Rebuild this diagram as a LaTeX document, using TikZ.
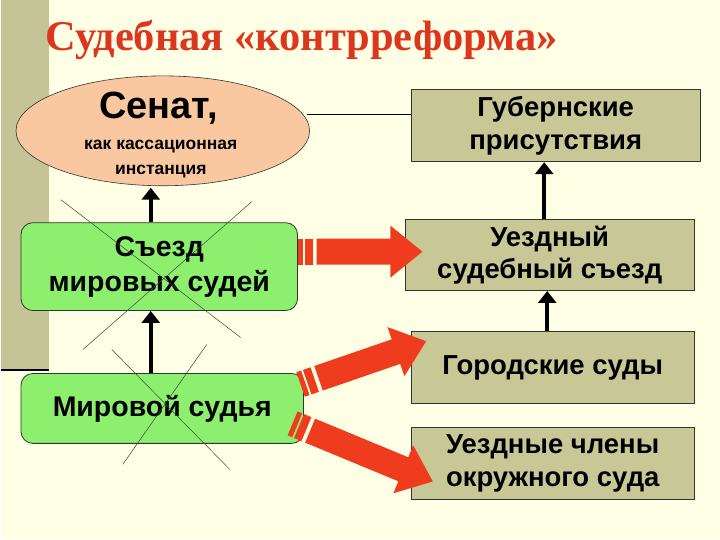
\documentclass[tikz,border=0pt]{standalone}
\usepackage{fontspec}
\setmainfont{Liberation Sans}
\newfontfamily\titlefont{Liberation Serif}
\usetikzlibrary{shapes.geometric,arrows.meta}
\definecolor{bg}{RGB}{255,255,230}
\definecolor{stripe}{RGB}{196,196,150}
\definecolor{olivebox}{RGB}{200,200,150}
\definecolor{greenbox}{RGB}{140,240,110}
\definecolor{peach}{RGB}{250,200,160}
\definecolor{titlered}{RGB}{220,55,30}
\definecolor{arrred}{RGB}{240,60,30}
\definecolor{crossc}{RGB}{60,70,60}
\newcommand\blockarrow[3]{%
\begin{scope}[shift={#1},rotate=#2]
\fill[arrred] (0,-13) rectangle (5,13);
\fill[arrred] (7,-13) rectangle (15,13);
\fill[arrred] (19,-13) -- (#3-32,-13) -- (#3-32,-26) -- (#3,0) -- (#3-32,26) -- (#3-32,13) -- (19,13) -- cycle;
\end{scope}}
\begin{document}
\begin{tikzpicture}[x=1pt,y=-1pt,
  obox/.style={draw=black!80,fill=olivebox,line width=0.8pt,inner sep=0pt,font=\bfseries\fontsize{27.5}{33}\selectfont,align=center},
  gbox/.style={draw=black!80,fill=greenbox,rounded corners=12pt,line width=0.8pt,inner sep=0pt,align=center,font=\bfseries\fontsize{28.5}{35}\selectfont},
  uparr/.style={line width=4pt,-{Triangle[length=12pt,width=18pt]}},
  cross/.style={crossc,line width=0.5pt}]
\fill[bg] (0,0) rectangle (720,540);
\fill[stripe] (0,0) rectangle (48,370);
\draw[black!70!blue!40!black,line width=2pt] (0,371) -- (48,371);
\node[anchor=west,font=\titlefont\bfseries\fontsize{42.5}{46}\selectfont,text=titlered] (title) at (41,40) {Судебная «контрреформа»};
\node[ellipse,draw=black!80,fill=peach,minimum width=294pt,minimum height=110pt,line width=0.6pt] (senat) at (162,131) {};
\node (senat1) at (158,108) {\bfseries\fontsize{38}{42}\selectfont Сенат,};
\node[align=center,font=\bfseries\fontsize{17.5}{25}\selectfont] (senat2) at (160,159) {как кассационная\\инстанция};
\node[gbox,minimum width=277pt,minimum height=88pt] (s) at (158.5,267) {Съезд\\мировых судей};
\node[gbox,minimum width=283pt,minimum height=70pt] (m) at (161.5,409) {Мировой судья};
\node[obox,minimum width=289pt,minimum height=72pt] (g) at (555.5,126) {Губернские\\присутствия};
\node[obox,minimum width=289pt,minimum height=71pt] (u) at (549.5,255.5) {Уездный\\судебный съезд};
\node[obox,minimum width=283pt,minimum height=72pt] (c) at (552.5,368) {Городские суды};
\node[obox,minimum width=283pt,minimum height=72pt] (o) at (552.5,464) {Уездные члены\\окружного суда};
\coordinate (lnA) at (306,115);
\coordinate (axL) at (150,0);
\coordinate (axR1) at (544,0);
\coordinate (axR2) at (547,0);
\coordinate (senB) at (150,188);
\draw[line width=1pt] (lnA) -- (g.west |- lnA);
\draw[uparr] (s.north -| axL) -- (senB);
\draw[uparr] (m.north -| axL) -- (s.south -| axL);
\draw[uparr] (u.north -| axR1) -- (g.south -| axR1);
\draw[uparr] (c.north -| axR2) -- (u.south -| axR2);
\blockarrow{(297,252)}{0}{125}
\blockarrow{(300,385)}{19}{133}
\blockarrow{(292,424)}{-22.5}{152}
\coordinate (x1) at (60,200); \coordinate (x2) at (240,338);
\coordinate (x3) at (251,202); \coordinate (x4) at (82,350);
\coordinate (x5) at (111,350); \coordinate (x6) at (229,470);
\coordinate (x7) at (206,345); \coordinate (x8) at (122,465);
\draw[cross] (x1) -- (x2); \draw[cross] (x3) -- (x4);
\draw[cross] (x5) -- (x6); \draw[cross] (x7) -- (x8);
\end{tikzpicture}
\end{document}
